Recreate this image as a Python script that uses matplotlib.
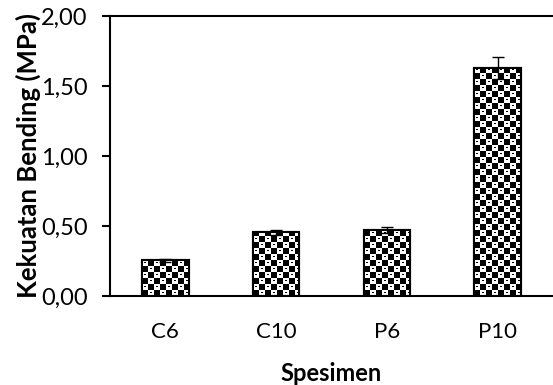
import matplotlib.pyplot as plt
import numpy as np

plt.rcParams['font.family'] = ['Lato', 'DejaVu Sans']

specimens = ['C6', 'C10', 'P6', 'P10']
strength = [0.255, 0.455, 0.47, 1.63]
errors = [0.01, 0.02, 0.02, 0.08]
yticks = [0.0, 0.5, 1.0, 1.5, 2.0]
ytick_labels = ['0,00', '0,50', '1,00', '1,50', '2,00']


def checker(h, w, cell=6):
    # checkered fill texture, like the Excel pattern fill (one pixel per cell of array)
    yy, xx = np.mgrid[0:h, 0:w]
    a = (xx // cell + yy // cell) % 2 == 0
    out = np.where(a, 0.0, 1.0)
    # little dashes in the white cells
    dash = (~a) & ((yy % cell) == cell // 2) & ((xx % cell) >= 2) & ((xx % cell) <= 3)
    out[dash] = 0.0
    return out


fig = plt.figure(figsize=(5.53, 3.85), dpi=100)
ax = fig.add_axes([110 / 553, 1 - 296 / 385, 1 - 110 / 553, 280 / 385])

x = np.arange(len(specimens))
ax.set_xlim(-0.5, 3.5)
ax.set_ylim(0, 2.0)

bars = ax.bar(x, strength, width=0.42, color='white', edgecolor='black',
              linewidth=1.5, zorder=2)
for b in bars:
    x0, y0 = b.get_x(), b.get_y()
    x1, y1 = x0 + b.get_width(), y0 + b.get_height()
    p0 = ax.transData.transform((x0, y0))
    p1 = ax.transData.transform((x1, y1))
    w_px = max(int(round(p1[0] - p0[0])), 1)
    h_px = max(int(round(p1[1] - p0[1])), 1)
    im = ax.imshow(checker(h_px, w_px), cmap='gray', vmin=0, vmax=1,
                   interpolation='nearest', origin='lower',
                   extent=[x0, x1, y0, y1], aspect='auto', zorder=2.5)
    im.set_clip_path(b)
    ax.bar(b.get_x() + b.get_width() / 2, b.get_height(), width=b.get_width(),
           fill=False, edgecolor='black', linewidth=1.5, zorder=3)

ax.errorbar(x, strength, yerr=errors, fmt='none', ecolor='black',
            elinewidth=1, capsize=4, capthick=1, zorder=4)

ax.set_xlim(-0.5, 3.5)
ax.set_ylim(0, 2.0)
ax.set_yticks(yticks)
ax.set_yticklabels(ytick_labels, fontsize=17)
ax.set_xticks(x)
ax.set_xticklabels(specimens, fontsize=16)
ax.tick_params(axis='x', length=0, pad=19)
ax.tick_params(axis='y', length=6, width=1.5, direction='out', pad=10)
ax.spines['right'].set_visible(False)
for s in ['left', 'bottom', 'top']:
    ax.spines[s].set_linewidth(1.5)
ax.set_ylabel('Kekuatan Bending (MPa)', fontsize=18.5, fontweight='bold', labelpad=0)
ax.set_xlabel('Spesimen', fontsize=17, fontweight='bold', labelpad=14)

fig.savefig('out.png', dpi=100)
